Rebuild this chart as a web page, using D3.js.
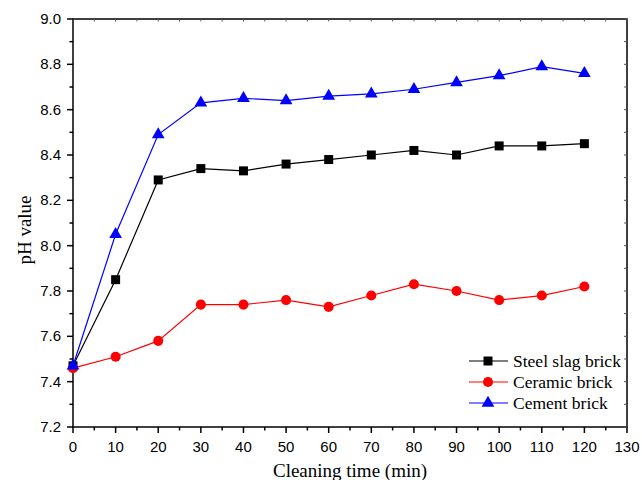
<!DOCTYPE html>
<html lang="en">
<head>
<meta charset="UTF-8">
<title>pH value vs cleaning time</title>
<script src="https://d3js.org/d3.v7.min.js"></script>
<style>
  body { margin: 0; padding: 0; background: #fff; }
  svg { display: block; }
  .tick-label { font-family: "Liberation Sans", Arial, sans-serif; font-size: 15px; fill: #000; }
  .title { font-family: "Liberation Serif", "Times New Roman", serif; font-size: 19px; fill: #000; }
  .legend-text { font-family: "Liberation Serif", "Times New Roman", serif; font-size: 17.5px; fill: #000; }
</style>
</head>
<body>
<svg id="chart"></svg>
<script>
const time = [0, 10, 20, 30, 40, 50, 60, 70, 80, 90, 100, 110, 120];
const steelSlag = [7.47, 7.85, 8.29, 8.34, 8.33, 8.36, 8.38, 8.40, 8.42, 8.40, 8.44, 8.44, 8.45];
const ceramic = [7.46, 7.51, 7.58, 7.74, 7.74, 7.76, 7.73, 7.78, 7.83, 7.80, 7.76, 7.78, 7.82];
const cement = [7.47, 8.05, 8.49, 8.63, 8.65, 8.64, 8.66, 8.67, 8.69, 8.72, 8.75, 8.79, 8.76];
const seriesNames = ["Steel slag brick", "Ceramic brick", "Cement brick"];
const xTicks = [0, 10, 20, 30, 40, 50, 60, 70, 80, 90, 100, 110, 120, 130];
const yTicks = [7.2, 7.4, 7.6, 7.8, 8.0, 8.2, 8.4, 8.6, 8.8, 9.0];

const W = 642, H = 480;
const m = { l: 73, r: 627, t: 19, b: 427 };

const svg = d3.select("#chart").attr("width", W).attr("height", H);

const x = d3.scaleLinear().domain([0, 130]).range([m.l, m.r]);
const y = d3.scaleLinear().domain([7.2, 9.0]).range([m.b, m.t]);

// frame
svg.append("rect")
  .attr("x", m.l).attr("y", m.t)
  .attr("width", m.r - m.l).attr("height", m.b - m.t)
  .attr("fill", "none").attr("stroke", "#000").attr("stroke-width", 1.5);

// bottom axis, major + minor outward ticks
const gx = svg.append("g");
xTicks.forEach(t => {
  gx.append("line").attr("x1", x(t)).attr("x2", x(t)).attr("y1", m.b).attr("y2", m.b + 6)
    .attr("stroke", "#000").attr("stroke-width", 1.5);
  if (t < 130) {
    gx.append("line").attr("x1", x(t + 5)).attr("x2", x(t + 5)).attr("y1", m.b).attr("y2", m.b + 3.5)
      .attr("stroke", "#000").attr("stroke-width", 1.5);
  }
  gx.append("text").attr("class", "tick-label")
    .attr("x", x(t)).attr("y", m.b + 25)
    .attr("text-anchor", "middle").text(t);
});
// top inward small ticks
d3.range(0, 131, 5).forEach(t => {
  svg.append("line").attr("x1", x(t)).attr("x2", x(t)).attr("y1", m.t).attr("y2", m.t + 2.5)
    .attr("stroke", "#555").attr("stroke-width", 1);
});

// left axis
const gy = svg.append("g");
yTicks.forEach(t => {
  gy.append("line").attr("x1", m.l - 6).attr("x2", m.l).attr("y1", y(t)).attr("y2", y(t))
    .attr("stroke", "#000").attr("stroke-width", 1.5);
  if (t < 9.0) {
    gy.append("line").attr("x1", m.l - 3.5).attr("x2", m.l).attr("y1", y(t + 0.1)).attr("y2", y(t + 0.1))
      .attr("stroke", "#000").attr("stroke-width", 1.5);
  }
  gy.append("text").attr("class", "tick-label")
    .attr("x", m.l - 12).attr("y", y(t) + 5)
    .attr("text-anchor", "end").text(t.toFixed(1));
});
// right inward small ticks
d3.range(0, 19).forEach(i => {
  const v = 7.2 + i * 0.1;
  svg.append("line").attr("x1", m.r - 3).attr("x2", m.r).attr("y1", y(v)).attr("y2", y(v))
    .attr("stroke", "#555").attr("stroke-width", 1);
});

// axis titles
svg.append("text").attr("class", "title")
  .attr("x", (m.l + m.r) / 2).attr("y", 477)
  .attr("text-anchor", "middle").text("Cleaning time (min)");
svg.append("text").attr("class", "title")
  .attr("transform", "translate(31,230) rotate(-90)")
  .attr("text-anchor", "middle").text("pH value");

// series
const series = [
  { name: seriesNames[0], values: steelSlag, color: "#000000", shape: d3.symbolSquare, size: 81 },
  { name: seriesNames[1], values: ceramic, color: "#ff0000", shape: d3.symbolCircle, size: 80 },
  { name: seriesNames[2], values: cement, color: "#0000ff", shape: d3.symbolTriangle, size: 70 }
];

const line = d3.line().x((d, i) => x(time[i])).y(d => y(d));

series.forEach(s => {
  svg.append("path").datum(s.values)
    .attr("d", line).attr("fill", "none")
    .attr("stroke", s.color).attr("stroke-width", 1.2);
});
series.forEach(s => {
  svg.append("g").selectAll("path")
    .data(s.values).enter().append("path")
    .attr("d", d3.symbol().type(s.shape).size(s.size))
    .attr("transform", (d, i) => `translate(${x(time[i])},${y(d)})`)
    .attr("fill", s.color);
});

// legend
const lg = svg.append("g");
series.forEach((s, i) => {
  const ly = 361 + i * 21;
  lg.append("line").attr("x1", 469).attr("x2", 508).attr("y1", ly).attr("y2", ly)
    .attr("stroke", s.color).attr("stroke-width", 1.2);
  lg.append("path").attr("d", d3.symbol().type(s.shape).size(s.size))
    .attr("transform", `translate(488,${ly})`).attr("fill", s.color);
  lg.append("text").attr("class", "legend-text")
    .attr("x", 513).attr("y", ly + 6).text(s.name);
});
</script>
</body>
</html>
